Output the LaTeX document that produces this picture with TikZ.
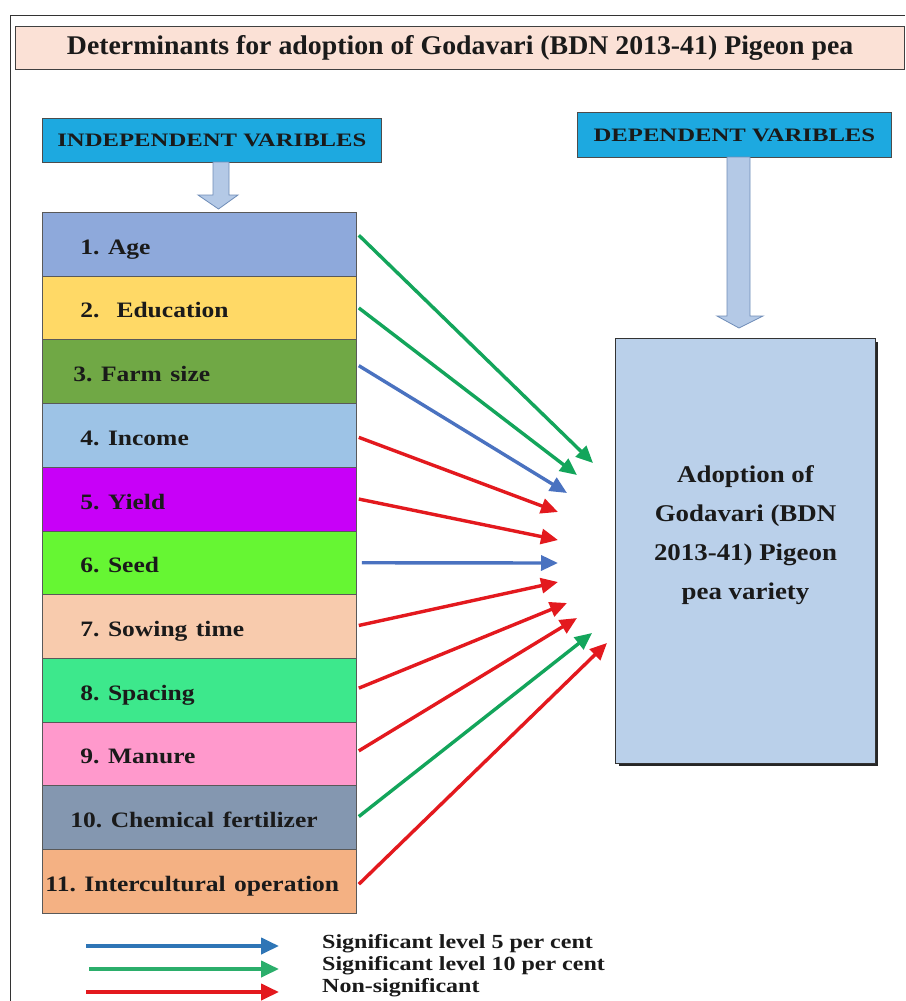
\documentclass[tikz,border=0pt]{standalone}
\usepackage{fontspec}
\setmainfont{Liberation Serif}
\usetikzlibrary{arrows.meta,calc}
\frenchspacing
\definecolor{titlefill}{HTML}{FBE1D6}
\definecolor{headfill}{HTML}{1DA9E0}
\definecolor{blockfill}{HTML}{B4C9E6}
\definecolor{blockdraw}{HTML}{6F8DB8}
\definecolor{bigfill}{HTML}{BAD0EA}
\definecolor{cA}{HTML}{8EA9DB}
\definecolor{cB}{HTML}{FFD966}
\definecolor{cC}{HTML}{70A845}
\definecolor{cD}{HTML}{9DC3E6}
\definecolor{cE}{HTML}{C800F8}
\definecolor{cF}{HTML}{66F633}
\definecolor{cG}{HTML}{F8CBAD}
\definecolor{cH}{HTML}{3DE88C}
\definecolor{cI}{HTML}{FF99CC}
\definecolor{cJ}{HTML}{8497B0}
\definecolor{cK}{HTML}{F4B183}
\definecolor{agreen}{HTML}{13A55B}
\definecolor{ablue}{HTML}{4A72C0}
\definecolor{ared}{HTML}{E3191E}
\definecolor{lblue}{HTML}{2E75B6}
\definecolor{txt}{HTML}{1A1A1A}
\newcommand{\rowtxt}[2]{\hspace*{#1}\raisebox{-10pt}[0pt][0pt]{\scalebox{1.16}[1]{#2}}}
\begin{document}
\begin{tikzpicture}[x=1pt,y=-1pt,
  font=\bfseries, text=txt,
  rowbox/.style={draw=gray!70!black, line width=0.8pt, anchor=north west,
     minimum height=63.7pt, text width=310pt, inner xsep=2pt, inner ysep=0pt,
     align=left, font=\fontsize{22}{24}\selectfont\bfseries},
  headbox/.style={draw=gray!60!black, line width=0.8pt, fill=headfill, anchor=north west,
     inner sep=0pt, font=\fontsize{19}{22}\selectfont\bfseries},
  conn/.style={line width=3.4pt, -{Triangle[length=17pt,width=15pt]}},
  legarrow/.style={line width=4pt, -{Triangle[length=18pt,width=16pt]}},
  blockarrow/.style={fill=blockfill, draw=blockdraw, line width=0.8pt},
  legtext/.style={anchor=west, inner sep=0pt, font=\fontsize{20}{22}\selectfont\bfseries}
]
\useasboundingbox (0,0) rectangle (905,1001);
\fill[white] (0,0) rectangle (905,1001);
% outer frame
\draw[gray!40!black, line width=1pt] (10,1001) -- (10,15) -- (905,15);
% title
\node[draw=gray!50!black, line width=1.2pt, fill=titlefill, anchor=north west,
      minimum width=889pt, minimum height=43pt, inner sep=0pt,
      font=\fontsize{27}{30}\selectfont\bfseries] (title) at (15,26)
      {\scalebox{1.03}[1]{Determinants for adoption of Godavari (BDN 2013-41) Pigeon pea}};
% headers
\node[headbox, minimum width=339pt, minimum height=44pt] (ind) at (42,118)
      {\scalebox{1.3}[1]{INDEPENDENT VARIBLES}};
\node[headbox, minimum width=314pt, minimum height=45pt] (dep) at (577,112)
      {\scalebox{1.3}[1]{DEPENDENT VARIBLES}};
% block arrows
\draw[blockarrow] (213,162) -- (229,162) -- (229,195) -- (238,195) -- (218.5,209)
   -- (198,195) -- (213,195) -- cycle;
\draw[blockarrow] (727,157) -- (750,157) -- (750,316) -- (763,316) -- (739,328)
   -- (717,316) -- (727,316) -- cycle;
% stack of variables
\node[rowbox, fill=cA] (r1) at (42,212.0) {\rowtxt{36pt}{1. Age}};
\node[rowbox, fill=cB] (r2) at (42,275.7) {\rowtxt{36pt}{2.\ \ Education}};
\node[rowbox, fill=cC] (r3) at (42,339.4) {\rowtxt{29pt}{3. Farm size}};
\node[rowbox, fill=cD] (r4) at (42,403.1) {\rowtxt{36pt}{4. Income}};
\node[rowbox, fill=cE] (r5) at (42,466.8) {\rowtxt{36pt}{5. Yield}};
\node[rowbox, fill=cF] (r6) at (42,530.5) {\rowtxt{36pt}{6. Seed}};
\node[rowbox, fill=cG] (r7) at (42,594.2) {\rowtxt{36pt}{7. Sowing time}};
\node[rowbox, fill=cH] (r8) at (42,657.9) {\rowtxt{36pt}{8. Spacing}};
\node[rowbox, fill=cI] (r9) at (42,721.6) {\rowtxt{36pt}{9. Manure}};
\node[rowbox, fill=cJ] (r10) at (42,785.3) {\rowtxt{26pt}{10. Chemical fertilizer}};
\node[rowbox, fill=cK] (r11) at (42,849.0) {\rowtxt{1pt}{11. Intercultural operation}};
% dependent box with shadow
\fill[black!85] (619,342) rectangle (878,766);
\node[draw=black!80, line width=1pt, fill=bigfill, anchor=north west,
      minimum width=260pt, minimum height=425pt, inner sep=0pt] (adopt) at (615,338) {};
\node[align=center, inner sep=0pt, font=\fontsize{24}{39}\selectfont\bfseries]
      (adopttxt) at ($(adopt.center)+(0,-16)$)
      {\scalebox{1.12}[1]{Adoption of}\\\scalebox{1.12}[1]{Godavari (BDN}\\
       \scalebox{1.12}[1]{2013-41) Pigeon}\\\scalebox{1.12}[1]{pea variety}};
% arrow end points
\coordinate (e1) at (593,463);
\coordinate (e2) at (577,475);
\coordinate (e3) at (567,493);
\coordinate (e4) at (558,512);
\coordinate (e5) at (558,540);
\coordinate (e6) at (558,563);
\coordinate (e7) at (558,582);
\coordinate (e8) at (567,603);
\coordinate (e9) at (577,618);
\coordinate (e10) at (592,633);
\coordinate (e11) at (607,643);
% connectors
\draw[conn, agreen] ([xshift=2pt,yshift=9pt]r1.east) -- (e1);
\draw[conn, agreen] ([xshift=2pt,yshift=0pt]r2.east) -- (e2);
\draw[conn, ablue] ([xshift=2pt,yshift=6pt]r3.east) -- (e3);
\draw[conn, ared] ([xshift=2pt,yshift=-2pt]r4.east) -- (e4);
\draw[conn, ared] ([xshift=2pt,yshift=0pt]r5.east) -- (e5);
\draw[conn, ablue] ([xshift=5pt,yshift=0pt]r6.east) -- (e6);
\draw[conn, ared] ([xshift=2pt,yshift=1pt]r7.east) -- (e7);
\draw[conn, ared] ([xshift=2pt,yshift=2pt]r8.east) -- (e8);
\draw[conn, ared] ([xshift=2pt,yshift=3pt]r9.east) -- (e9);
\draw[conn, agreen] ([xshift=2pt,yshift=1pt]r10.east) -- (e10);
\draw[conn, ared] ([xshift=2pt,yshift=-3pt]r11.east) -- (e11);
% legend
\coordinate (l1a) at (86,946); \coordinate (l1b) at (279,946);
\coordinate (l2a) at (89,969); \coordinate (l2b) at (279,969);
\coordinate (l3a) at (86,992); \coordinate (l3b) at (279,992);
\draw[legarrow, lblue] (l1a) -- (l1b);
\draw[legarrow, agreen!90!white] (l2a) -- (l2b);
\draw[legarrow, ared] (l3a) -- (l3b);
\node[legtext] (t1) at (322,944) {\scalebox{1.2}[1]{Significant level 5 per cent}};
\node[legtext] (t2) at (322,966) {\scalebox{1.2}[1]{Significant level 10 per cent}};
\node[legtext] (t3) at (322,988) {\scalebox{1.2}[1]{Non-significant}};
\end{tikzpicture}
\end{document}
